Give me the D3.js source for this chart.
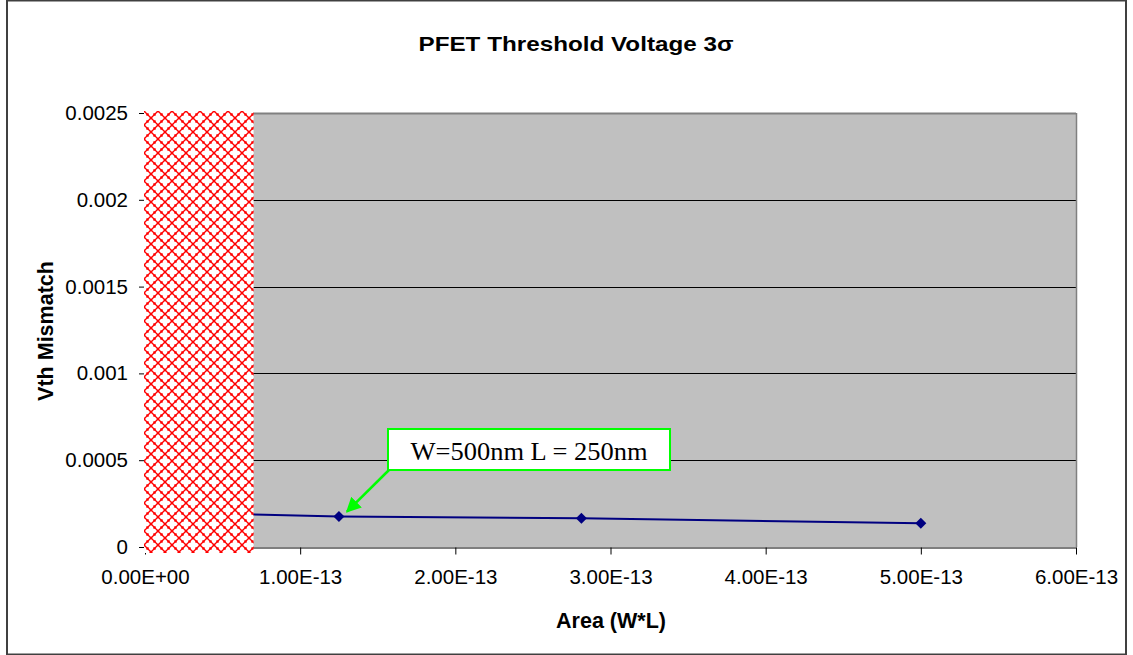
<!DOCTYPE html>
<html>
<head>
<meta charset="utf-8">
<script src="https://cdn.jsdelivr.net/npm/d3@7"></script>
<style>
  html, body { margin: 0; padding: 0; background: #fff; }
  svg { display: block; }
</style>
</head>
<body>
<svg id="chart" width="1133" height="655"></svg>
<script>
// Device sizes (W*L, m^2) and measured 3-sigma Vth mismatch (V)
const areas = [3.125e-14, 1.25e-13, 2.8125e-13, 5e-13];
const mismatch = [0.000196, 0.000175, 0.000165, 0.000137];

const xTicks = [0, 1e-13, 2e-13, 3e-13, 4e-13, 5e-13, 6e-13];
const xTickLabels = ["0.00E+00", "1.00E-13", "2.00E-13", "3.00E-13", "4.00E-13", "5.00E-13", "6.00E-13"];
const yTicks = [0, 0.0005, 0.001, 0.0015, 0.002, 0.0025];
const yTickLabels = ["0", "0.0005", "0.001", "0.0015", "0.002", "0.0025"];

// Area range below the usable device size (shaded out)
const excludedArea = [0, 0.7e-13];

// Callout on the W=500nm, L=250nm device
const calloutText = "W=500nm L = 250nm";
const calloutIndex = 1;

const svg = d3.select("#chart");
const W = 1133, H = 655;

const x = d3.scaleLinear().domain([0, 6e-13]).range([145, 1076]);
const y = d3.scaleLinear().domain([0, 0.0025]).range([547, 113]);

const sans = "'Liberation Sans', Arial, sans-serif";

// Outer frame
svg.append("rect")
  .attr("x", 7).attr("y", 0.5).attr("width", W - 14).attr("height", H - 1)
  .attr("fill", "#fff").attr("stroke", "#404040").attr("stroke-width", 2);

// Hatch pattern: red diagonal lattice with dots at the crossings
const defs = svg.append("defs");
const P = 14;
const pat = defs.append("pattern")
  .attr("id", "hatch").attr("patternUnits", "userSpaceOnUse")
  .attr("x", 144).attr("y", 111)
  .attr("width", P).attr("height", P);
pat.append("rect").attr("width", P).attr("height", P).attr("fill", "#fff");
pat.append("path")
  .attr("d", `M0,0L${P},${P}M${P},0L0,${P}`)
  .attr("stroke", "#ff0000").attr("stroke-width", 1.3).attr("fill", "none");
pat.selectAll("rect.dot")
  .data([[0, 0], [P, 0], [0, P], [P, P], [P / 2, P / 2],
         [P / 4, P / 4], [3 * P / 4, P / 4], [P / 4, 3 * P / 4], [3 * P / 4, 3 * P / 4]])
  .enter().append("rect").attr("class", "dot")
  .attr("x", d => d[0] - 1.2).attr("y", d => d[1] - 1.2)
  .attr("width", 2.4).attr("height", 2.4).attr("fill", "#ff0000");

// Plot area
svg.append("rect")
  .attr("x", x(0)).attr("y", y(0.0025))
  .attr("width", x(6e-13) - x(0)).attr("height", y(0) - y(0.0025))
  .attr("fill", "#c0c0c0");

// Gridlines
svg.append("g").selectAll("line")
  .data(yTicks.filter(d => d > 0))
  .enter().append("line")
  .attr("x1", x(0)).attr("x2", x(6e-13))
  .attr("y1", d => Math.round(y(d)) + 0.5).attr("y2", d => Math.round(y(d)) + 0.5)
  .attr("stroke", d => d === 0.0025 ? "#808080" : "#000").attr("stroke-width", d => d === 0.0025 ? 2 : 1);

// Right border of plot area
svg.append("line")
  .attr("x1", x(6e-13) + 0.5).attr("x2", x(6e-13) + 0.5)
  .attr("y1", y(0.0025)).attr("y2", y(0))
  .attr("stroke", "#808080").attr("stroke-width", 1.5);

// Axes
const xAxis = d3.axisBottom(x).tickValues(xTicks)
  .tickFormat((d, i) => xTickLabels[i]).tickSize(7).tickSizeOuter(0).tickPadding(15);
const gx = svg.append("g").attr("transform", `translate(0,${Math.round(y(0)) + 0.5})`).call(xAxis);
gx.select(".domain").attr("stroke", "#000").attr("stroke-width", 1.2);
gx.selectAll(".tick line").attr("stroke", "#000");
gx.selectAll("text").attr("font-family", sans).attr("font-size", 20.5).attr("fill", "#000");

const yAxis = d3.axisLeft(y).tickValues(yTicks)
  .tickFormat((d, i) => yTickLabels[i]).tickSize(6).tickSizeOuter(0).tickPadding(11);
const gy = svg.append("g").attr("transform", `translate(${x(0)},0)`).call(yAxis);
gy.select(".domain").attr("stroke", "#000");
gy.selectAll(".tick line").attr("stroke", "#000");
gy.selectAll("text").attr("font-family", sans).attr("font-size", 20.5).attr("fill", "#000");

// Data line and markers
const pts = areas.map((a, i) => ({ a, v: mismatch[i] }));
svg.append("path")
  .datum(pts)
  .attr("d", d3.line().x(d => x(d.a)).y(d => y(d.v)))
  .attr("fill", "none").attr("stroke", "#000080").attr("stroke-width", 2);

svg.append("g").selectAll("path")
  .data(pts)
  .enter().append("path")
  .attr("transform", d => `translate(${x(d.a)},${y(d.v)})`)
  .attr("d", "M0,-5.5L5.5,0L0,5.5L-5.5,0Z")
  .attr("fill", "#000080");

// Shaded-out small-area region, drawn over the axes
svg.append("rect")
  .attr("x", x(excludedArea[0]) - 1).attr("y", y(0.0025) - 2)
  .attr("width", x(excludedArea[1]) - x(excludedArea[0]) + 1)
  .attr("height", y(0) - y(0.0025) + 8)
  .attr("fill", "url(#hatch)");

// Callout box and arrow
const target = pts[calloutIndex];
const tx = x(target.a), ty = y(target.v);
const box = { x: 388, y: 429, w: 282, h: 41 };

defs.append("marker")
  .attr("id", "arrowhead").attr("viewBox", "0 0 10 10")
  .attr("refX", 9).attr("refY", 5)
  .attr("markerWidth", 6).attr("markerHeight", 6)
  .attr("orient", "auto")
  .append("path").attr("d", "M0,0L10,5L0,10Z").attr("fill", "#00ff00");

svg.append("line")
  .attr("x1", box.x + 1).attr("y1", box.y + box.h)
  .attr("x2", tx + 8).attr("y2", ty - 5)
  .attr("stroke", "#00ff00").attr("stroke-width", 2.5)
  .attr("marker-end", "url(#arrowhead)");

svg.append("rect")
  .attr("x", box.x).attr("y", box.y).attr("width", box.w).attr("height", box.h)
  .attr("fill", "#fff").attr("stroke", "#00ff00").attr("stroke-width", 2);

svg.append("text")
  .attr("x", box.x + box.w / 2).attr("y", box.y + 30.5)
  .attr("text-anchor", "middle")
  .attr("font-family", "'Liberation Serif', 'Times New Roman', serif")
  .attr("font-size", 25).attr("fill", "#000")
  .attr("textLength", 237).attr("lengthAdjust", "spacingAndGlyphs")
  .text(calloutText);

// Titles
svg.append("text")
  .attr("x", 576).attr("y", 51).attr("text-anchor", "middle")
  .attr("font-family", sans).attr("font-weight", "bold").attr("font-size", 21)
  .attr("textLength", 315).attr("lengthAdjust", "spacingAndGlyphs")
  .text("PFET Threshold Voltage 3σ");

svg.append("text")
  .attr("x", 611).attr("y", 628).attr("text-anchor", "middle")
  .attr("font-family", sans).attr("font-weight", "bold").attr("font-size", 21.5)
  .text("Area (W*L)");

svg.append("text")
  .attr("transform", "translate(53,331) rotate(-90)")
  .attr("text-anchor", "middle")
  .attr("font-family", sans).attr("font-weight", "bold").attr("font-size", 21.5)
  .text("Vth Mismatch");
</script>
</body>
</html>
